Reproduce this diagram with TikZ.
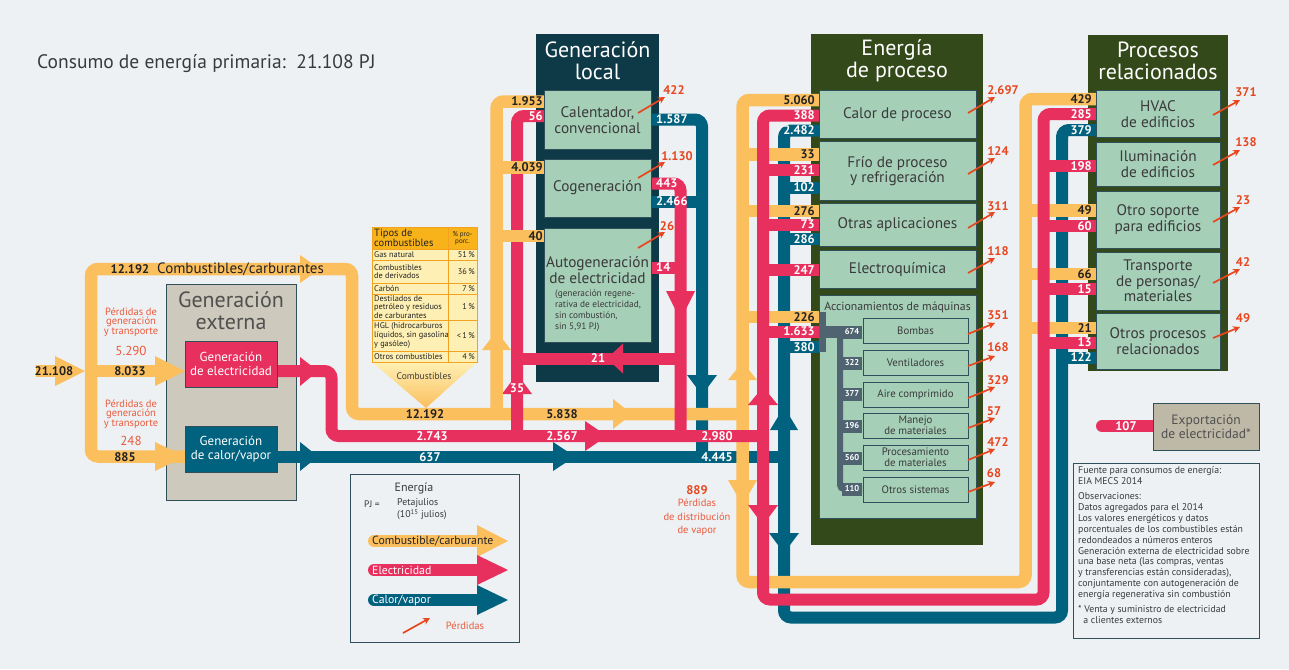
\documentclass[tikz,border=0pt]{standalone}
\usepackage{fontspec}
\setmainfont{PT Sans}
\usetikzlibrary{arrows.meta}
\definecolor{bg}{HTML}{EDF1F4}
\definecolor{corange}{HTML}{FBBF5E}
\definecolor{cpink}{HTML}{E8305F}
\definecolor{cteal}{HTML}{00627F}
\definecolor{cdark}{HTML}{222222}
\definecolor{cred}{HTML}{E8461E}
\definecolor{credl}{HTML}{EB5A3C}
\definecolor{cgreen}{HTML}{A5CFB7}
\definecolor{cbord}{HTML}{2F4F5A}
\definecolor{cgenloc}{HTML}{0E3A47}
\definecolor{cproc}{HTML}{33491A}
\definecolor{cgray}{HTML}{CDC9BC}
\definecolor{cexp}{HTML}{BEB9A7}
\definecolor{ctext}{HTML}{3A3A3A}
\definecolor{cgtext}{HTML}{505050}
\definecolor{cslate}{HTML}{4F6470}
\definecolor{tabhead}{HTML}{F8B31B}
\definecolor{tabrow}{HTML}{FEF0B4}
\definecolor{tabline}{HTML}{F3A21F}
\newcommand\bl[5]{\node[#1,anchor=#2] (#3) at (#4) {#5};}
\begin{document}
\begin{tikzpicture}[x=1pt,y=-1pt,
 ob/.style={draw=corange,line width=12.5pt,rounded corners=7pt},
 pb/.style={draw=cpink,line width=12pt,rounded corners=7pt},
 tb/.style={draw=cteal,line width=12pt,rounded corners=7pt},
 nd/.style={inner sep=0pt,font=\bfseries\fontsize{12.5}{12.5}\selectfont,text=cdark},
 nw/.style={nd,text=white},
 loss/.style={draw=cred,line width=1.7pt,-{Stealth[length=7pt,width=7pt]}},
 lossn/.style={inner sep=0pt,font=\bfseries\fontsize{12.5}{12.5}\selectfont,text=cred},
 sub/.style={draw=cbord,fill=cgreen,line width=0.7pt},
 subt/.style={inner sep=0pt,align=center,text=ctext,font=\fontsize{15.3}{15.5}\selectfont},
 acct/.style={inner sep=0pt,align=center,text=ctext,font=\fontsize{10.8}{11}\selectfont},
 big/.style={inner sep=0pt,align=center,text=white,font=\fontsize{22}{22}\selectfont},
 redt/.style={inner sep=0pt,align=center,text=credl,font=\fontsize{10.5}{9.5}\selectfont},
 slab/.style={inner sep=0pt,text=white,font=\bfseries\fontsize{8.5}{8.5}\selectfont},
 tabt/.style={inner sep=0pt,align=left,text=cdark,font=\fontsize{8.3}{8.7}\selectfont},
]
\useasboundingbox[fill=bg] (0,0) rectangle (1289,669);

% title
\node[anchor=west,inner sep=0pt,text=ctext,font=\fontsize{19.5}{19.5}\selectfont] (title) at (37,64) {Consumo de energía primaria:\ \ 21.108 PJ};

% frames
\draw[fill=cgray,draw=cbord,line width=0.8pt] (166,284) rectangle (296,500);
\fill[cgenloc] (536,34) rectangle (659,382);
\fill[cproc] (811,34) rectangle (983,545);
\fill[cproc] (1088,35) rectangle (1228,371);

% ---------- teal ----------
\draw[tb] (277,456.5) -- (784,456.5);
\draw[tb] (820,130.5) -- (784,130.5) -- (784,617.5) -- (1062,617.5) -- (1062,130) -- (1096,130);
\draw[tb] (784,187.5) -- (820,187.5);
\draw[tb] (784,239) -- (820,239);
\draw[tb] (784,347) -- (820,347);
\draw[tb] (1062,357.5) -- (1096,357.5);
\draw[tb] (651,119.5) -- (702,119.5) -- (702,456.5);
\draw[tb] (651,201.5) -- (702,201.5);
\fill[cteal] (300,442) -- (318,456.5) -- (300,471) -- cycle;
\fill[cteal] (553,442) -- (575,456.5) -- (553,471) -- cycle;
\fill[cteal] (687,375) -- (702,395) -- (717,375) -- cycle;
\fill[cteal] (770,430) -- (784,407) -- (798,430) -- cycle;
\fill[cteal] (769,533) -- (784,553) -- (799,533) -- cycle;

% ---------- orange ----------
\draw[ob] (185,456.5) -- (91,456.5) -- (91,269) -- (352,269) -- (352,414) -- (742.5,414);
\draw[ob] (91,371) -- (160,371);
\draw[ob] (36,371) -- (60,371);
\draw[ob] (820,100) -- (742.5,100) -- (742.5,582) -- (1025.5,582) -- (1025.5,99) -- (1096,99);
\draw[ob] (742.5,154.5) -- (820,154.5);
\draw[ob] (742.5,211) -- (820,211);
\draw[ob] (742.5,317) -- (820,317);
\draw[ob] (1025.5,210.5) -- (1096,210.5);
\draw[ob] (1025.5,274) -- (1096,274);
\draw[ob] (1025.5,328) -- (1096,328);
\fill[corange] (55,356) -- (85,371) -- (55,386) -- cycle;
\fill[corange] (155,356) -- (185,371) -- (155,386) -- cycle;
\fill[corange] (155,442) -- (185,456.5) -- (155,471) -- cycle;
\fill[corange] (300,255) -- (320,269) -- (300,283) -- cycle;
\fill[corange] (613,399) -- (632,414) -- (613,429) -- cycle;
\fill[corange] (728,380) -- (742.5,362) -- (757,380) -- cycle;
\fill[corange] (728,480) -- (742.5,505) -- (757,480) -- cycle;

% ---------- pink ----------
\draw[pb] (277,371) -- (331.5,371) -- (331.5,436) -- (763,436);
\draw[pb] (820,115.5) -- (763,115.5) -- (763,599.5) -- (1043.5,599.5) -- (1043.5,114) -- (1096,114);
\draw[pb] (763,170) -- (820,170);
\draw[pb] (763,224.5) -- (820,224.5);
\draw[pb] (763,270) -- (820,270);
\draw[pb] (763,331.5) -- (820,331.5);
\draw[pb] (1043.5,166) -- (1096,166);
\draw[pb] (1043.5,226) -- (1096,226);
\draw[pb] (1043.5,289) -- (1096,289);
\draw[pb] (1043.5,342.5) -- (1096,342.5);
\draw[pb] (544,116) -- (517,116) -- (517,436);
\draw[pb] (680.5,358.5) -- (517,358.5);
\draw[pb] (651,183.5) -- (680.5,183.5) -- (680.5,436);
\draw[pb] (651,267.5) -- (680.5,267.5);
\fill[cpink] (300,357) -- (318,371) -- (300,386) -- cycle;
\fill[cpink] (585,421) -- (607,436) -- (585,451) -- cycle;
\fill[cpink] (502,394) -- (517,374) -- (532,394) -- cycle;
\fill[cpink] (623,343.5) -- (607,358.5) -- (623,373.5) -- cycle;
\fill[cpink] (666,291) -- (680.5,320) -- (695,291) -- cycle;
\fill[cpink] (748,405) -- (763,387) -- (778,405) -- cycle;
\fill[cpink] (748,505) -- (763,525) -- (778,505) -- cycle;
\draw[cpink,line width=12pt,line cap=round] (1102,426) -- (1153,426);

% ---------- orange branch into local generation ----------
\draw[ob] (496.5,414) -- (496.5,101.5) -- (544,101.5);
\draw[ob] (496.5,167.5) -- (544,167.5);
\draw[ob] (496.5,236) -- (544,236);
\fill[corange] (482,350) -- (496.5,331) -- (511,350) -- cycle;

% ---------- fuel table ----------
\shade[top color=tabrow,bottom color=corange] (372,362) -- (477,362) -- (426,408) -- cycle;
\fill[tabrow] (372,227) rectangle (477,362);
\fill[tabhead] (372,227) rectangle (477,249);
\draw[tabline,line width=0.9pt] (372,227) rectangle (477,362);
\draw[tabline,line width=0.9pt] (448,227) -- (448,362);
\foreach \yy in {249,260,283,294,320,351} \draw[tabline,line width=0.9pt] (372,\yy) -- (477,\yy);
\node[tabt,anchor=north west,font=\fontsize{10.5}{10}\selectfont] (th1) at (374,228.5) {Tipos de\\combustibles};
\node[tabt,align=center,font=\fontsize{7}{7.5}\selectfont] (th2) at (462.5,238) {\% pro-\\porc.};
\node[tabt,anchor=west] (r1) at (374,254.5) {Gas natural};
\node[tabt,anchor=west] (r2) at (374,271.5) {Combustibles\\de derivados};
\node[tabt,anchor=west] (r3) at (374,288.5) {Carbón};
\node[tabt,anchor=west] (r4) at (374,307) {Destilados de\\petróleo y residuos\\de carburantes};
\node[tabt,anchor=west] (r5) at (374,335.5) {HGL (hidrocarburos\\líquidos, sin gasolina\\y gasóleo)};
\node[tabt,anchor=west] (r6) at (374,356.5) {Otros combustibles};
\node[tabt,anchor=east] (p1) at (475,254.5) {51\,\%};
\node[tabt,anchor=east] (p2) at (475,271.5) {36\,\%};
\node[tabt,anchor=east] (p3) at (475,288.5) {7\,\%};
\node[tabt,anchor=east] (p4) at (475,307) {1\,\%};
\node[tabt,anchor=east] (p5) at (475,335.5) {<\,1\,\%};
\node[tabt,anchor=east] (p6) at (475,356.5) {4\,\%};
\node[tabt,font=\fontsize{9.5}{9.5}\selectfont,text=ctext] (comb) at (424,376) {Combustibles};

% ---------- band labels ----------
\bl{nd}{center}{l21108}{54,371}{21.108}
\bl{nd}{center}{l8033}{130,371}{8.033}
\bl{nd}{center}{l885}{125,457}{885}
\bl{nd}{center}{l12192a}{130,269}{12.192}
\node[inner sep=0pt,anchor=west,text=cdark,font=\fontsize{15}{15}\selectfont] (lcomb) at (157,269) {Combustibles/carburantes};
\bl{nd}{center}{l12192b}{425,414}{12.192}
\bl{nd}{center}{l5838}{562,414}{5.838}
\bl{nw}{center}{l2743}{432,436}{2.743}
\bl{nw}{center}{l2567}{562,436}{2.567}
\bl{nw}{center}{l637}{430,457}{637}
\bl{nw}{east}{l2980}{733,436}{2.980}
\bl{nw}{east}{l4445}{733,457}{4.445}
\bl{nw}{center}{l35}{517,388}{35}
\bl{nw}{center}{l21}{598,358.5}{21}
\bl{nd}{east}{l1953}{543,101.5}{1.953}
\bl{nw}{east}{l56}{543,116}{56}
\bl{nd}{east}{l4039}{543,167.5}{4.039}
\bl{nd}{east}{l40}{543,236}{40}
\bl{nw}{west}{l1587}{656,119.5}{1.587}
\bl{nw}{west}{l443}{656,183.5}{443}
\bl{nw}{west}{l2466}{656,201.5}{2.466}
\bl{nw}{west}{l14}{656,267.5}{14}
\bl{nd}{east}{e1}{815,100}{5.060}
\bl{nw}{east}{e2}{815,115.5}{388}
\bl{nw}{east}{e3}{815,130.5}{2.482}
\bl{nd}{east}{e4}{815,154.5}{33}
\bl{nw}{east}{e5}{815,170}{231}
\bl{nw}{east}{e6}{815,187.5}{102}
\bl{nd}{east}{e7}{815,211}{276}
\bl{nw}{east}{e8}{815,224.5}{73}
\bl{nw}{east}{e9}{815,239}{286}
\bl{nw}{east}{e10}{815,270}{247}
\bl{nd}{east}{e11}{815,317}{226}
\bl{nw}{east}{e12}{815,331.5}{1.633}
\bl{nw}{east}{e13}{815,347}{380}
\bl{nd}{east}{q1}{1092,99}{429}
\bl{nw}{east}{q2}{1092,114}{285}
\bl{nw}{east}{q3}{1092,130}{379}
\bl{nw}{east}{q4}{1092,166}{198}
\bl{nd}{east}{q5}{1092,210.5}{49}
\bl{nw}{east}{q6}{1092,226}{60}
\bl{nd}{east}{q7}{1092,274}{66}
\bl{nw}{east}{q8}{1092,289}{15}
\bl{nd}{east}{q9}{1092,328}{21}
\bl{nw}{east}{q10}{1092,342.5}{13}
\bl{nw}{east}{q11}{1092,357.5}{122}
\bl{nw}{center}{x107}{1126,426}{107}

% ---------- external generation ----------
\node[big,text=cgtext] (gext) at (231,311) {Generación\\externa};
\node[draw=cbord,fill=cpink,line width=0.8pt,minimum width=92pt,minimum height=46pt,inner sep=0pt,align=center,text=white,font=\fontsize{13}{13.5}\selectfont] (gel) at (231,364) {Generación\\de electricidad};
\node[draw=cbord,fill=cteal,line width=0.8pt,minimum width=92pt,minimum height=46pt,inner sep=0pt,align=center,text=white,font=\fontsize{13}{13.5}\selectfont] (gcv) at (231,449) {Generación\\de calor/vapor};
\node[redt] (rp1) at (131,322) {Pérdidas de\\generación\\y transporte};
\node[redt,font=\fontsize{13}{13}\selectfont] (rv1) at (131,351) {5.290};
\node[redt] (rp2) at (131,414) {Pérdidas de\\generación\\y transporte};
\node[redt,font=\fontsize{13}{13}\selectfont] (rv2) at (131,441) {248};

% ---------- local generation ----------
\node[big] (gloc) at (597.5,61) {Generación\\local};
\draw[sub] (544,90) rectangle (651,149);
\draw[sub] (544,159) rectangle (651,217);
\draw[sub] (544,228) rectangle (651,342);
\node[subt] (cal) at (597.5,120) {Calentador,\\convencional};
\node[subt] (cog) at (597.5,188) {Cogeneración};
\node[subt] (aut) at (597.5,270) {Autogeneración\\de electricidad};
\node[inner sep=0pt,align=left,anchor=north west,text=ctext,font=\fontsize{9.3}{11}\selectfont] (autn) at (555,290) {(generación regene-\\rativa de electricidad,\\sin combustión,\\sin 5,91 PJ)};

% ---------- process energy ----------
\node[big] (eproc) at (897,61) {Energía\\de proceso};
\draw[sub] (819,90) rectangle (976,138);
\draw[sub] (819,141) rectangle (976,200);
\draw[sub] (819,203) rectangle (976,246);
\draw[sub] (819,250) rectangle (976,288);
\draw[sub] (819,295) rectangle (976,518);
\node[subt] (s1) at (897.5,115) {Calor de proceso};
\node[subt] (s2) at (897.5,171) {Frío de proceso\\y refrigeración};
\node[subt] (s3) at (897.5,225) {Otras aplicaciones};
\node[subt] (s4) at (897.5,269.5) {Electroquímica};
\node[subt,font=\fontsize{11.8}{11.8}\selectfont] (s5) at (897.5,307) {Accionamientos de máquinas};
\fill[cslate] (819,312) rectangle (826,352);
\fill[cslate] (819,326) rectangle (862,338);
\draw[cslate,line width=6pt,rounded corners=4pt] (840,332) -- (840,489) -- (862,489);
\foreach \yy/\vv [count=\i] in {332/674,363/322,394/377,426/196,458/560,489/110}{
  \fill[cslate] (842,\yy-6.5) rectangle (862,\yy+6.5);
  \node[slab] (a\i) at (852,\yy) {\vv};
}
\draw[sub] (863,318) rectangle (968,343);
\draw[sub] (863,350) rectangle (968,375);
\draw[sub] (863,382) rectangle (968,407);
\draw[sub] (863,413) rectangle (968,438);
\draw[sub] (863,445) rectangle (968,470);
\draw[sub] (863,477) rectangle (968,502);
\node[acct] (m1) at (915.5,330.5) {Bombas};
\node[acct] (m2) at (915.5,362.5) {Ventiladores};
\node[acct] (m3) at (915.5,394.5) {Aire comprimido};
\node[acct] (m4) at (915.5,425.5) {Manejo\\de materiales};
\node[acct] (m5) at (915.5,457.5) {Procesamiento\\de materiales};
\node[acct] (m6) at (915.5,489.5) {Otros sistemas};

% ---------- related processes ----------
\node[big] (rproc) at (1158,61) {Procesos\\relacionados};
\draw[sub] (1096,90) rectangle (1220,137);
\draw[sub] (1096,142) rectangle (1220,186);
\draw[sub] (1096,191) rectangle (1220,248);
\draw[sub] (1096,252) rectangle (1220,310);
\draw[sub] (1096,313) rectangle (1220,369);
\node[subt] (h1) at (1158,114) {HVAC\\de edificios};
\node[subt] (h2) at (1158,164) {Iluminación\\de edificios};
\node[subt] (h3) at (1158,219.5) {Otro soporte\\para edificios};
\node[subt] (h4) at (1158,281) {Transporte\\de personas/\\materiales};
\node[subt] (h5) at (1158,341) {Otros procesos\\relacionados};

% ---------- export ----------
\node[draw=cbord,fill=cexp,line width=0.8pt,minimum width=106pt,minimum height=47pt,inner sep=0pt,align=center,text=cgtext,font=\fontsize{13.5}{14}\selectfont] (exp) at (1206,426.5) {Exportación\\de electricidad*};

% ---------- losses ----------
\draw[loss] (638,113) -- (665,97);  \node[lossn] (k1) at (674,90) {422};
\draw[loss] (638,178) -- (665,162); \node[lossn] (k2) at (677,156) {1.130};
\draw[loss] (638,248) -- (665,232); \node[lossn] (k3) at (667,226) {26};
\draw[loss] (968,113) -- (995,97);  \node[lossn] (k4) at (1003,90) {2.697};
\draw[loss] (968,174) -- (995,158); \node[lossn] (k5) at (998,151) {124};
\draw[loss] (968,228) -- (995,212); \node[lossn] (k6) at (998,206) {311};
\draw[loss] (968,273) -- (995,258); \node[lossn] (k7) at (998,251) {118};
\draw[loss] (968,334) -- (995,323); \node[lossn] (k8) at (998,315) {351};
\draw[loss] (968,366) -- (995,356); \node[lossn] (k9) at (998,347) {168};
\draw[loss] (968,398) -- (995,387); \node[lossn] (k10) at (998,380) {329};
\draw[loss] (968,428) -- (995,418); \node[lossn] (k11) at (994,411) {57};
\draw[loss] (968,460) -- (995,449); \node[lossn] (k12) at (998,442) {472};
\draw[loss] (968,492) -- (995,482); \node[lossn] (k13) at (994,473) {68};
\draw[loss] (1213,115) -- (1240,100); \node[lossn] (k14) at (1246,92) {371};
\draw[loss] (1213,165) -- (1240,150); \node[lossn] (k15) at (1246,142) {138};
\draw[loss] (1213,222) -- (1240,207); \node[lossn] (k16) at (1243,200) {23};
\draw[loss] (1213,283) -- (1240,269); \node[lossn] (k17) at (1243,262) {42};
\draw[loss] (1213,338) -- (1240,327); \node[lossn] (k18) at (1243,318) {49};

\node[lossn] (k19) at (697,490) {889};
\node[redt,font=\fontsize{10.5}{13.5}\selectfont] (k20) at (697,517.5) {Pérdidas\\de distribución\\de vapor};

% ---------- legend ----------
\draw[cbord,line width=0.8pt] (350,474) rectangle (519,642);
\node[inner sep=0pt,text=ctext,font=\fontsize{12}{12}\selectfont] (lg1) at (414,488) {Energía};
\node[inner sep=0pt,anchor=west,text=ctext,font=\fontsize{9.5}{9.5}\selectfont] (lg2) at (364,504) {PJ =};
\node[inner sep=0pt,anchor=north west,align=left,text=ctext,font=\fontsize{9.8}{12.5}\selectfont] (lg3) at (397,498) {Petajulios\\(10\textsuperscript{15} julios)};
\draw[corange,line width=12pt,line cap=round] (374,541) -- (480,541);
\fill[corange] (477,525) -- (508,541) -- (477,557) -- cycle;
\draw[cpink,line width=12pt,line cap=round] (374,570) -- (480,570);
\fill[cpink] (477,555) -- (508,570) -- (477,585) -- cycle;
\draw[cteal,line width=12pt,line cap=round] (374,600) -- (480,600);
\fill[cteal] (477,585) -- (508,600) -- (477,615) -- cycle;
\node[inner sep=0pt,anchor=west,text=cdark,font=\fontsize{11.8}{11.8}\selectfont] (lg4) at (372,541) {Combustible/carburante};
\node[inner sep=0pt,anchor=west,text=white,font=\fontsize{11.8}{11.8}\selectfont] (lg5) at (372,570) {Electricidad};
\node[inner sep=0pt,anchor=west,text=white,font=\fontsize{11.8}{11.8}\selectfont] (lg6) at (372,600) {Calor/vapor};
\draw[loss] (403,633) -- (430,618);
\node[inner sep=0pt,text=credl,font=\fontsize{10.5}{10.5}\selectfont] (lg7) at (465,626) {Pérdidas};

% ---------- notes ----------
\draw[cbord,line width=0.8pt] (1073,463) rectangle (1259,638);
\node[inner sep=0pt,anchor=north west,align=left,text=ctext,font=\fontsize{9.8}{10.9}\selectfont] (notes) at (1078,466.5) {Fuente para consumos de energía:\\EIA MECS 2014\\[4pt]Observaciones:\\Datos agregados para el 2014\\Los valores energéticos y datos\\porcentuales de los combustibles están\\redondeados a números enteros\\Generación externa de electricidad sobre\\una base neta (las compras, ventas\\y transferencias están consideradas),\\conjuntamente con autogeneración de\\energía regenerativa sin combustión\\[4pt]* Venta y suministro de electricidad\\\ \ a clientes externos};
\end{tikzpicture}
\end{document}
